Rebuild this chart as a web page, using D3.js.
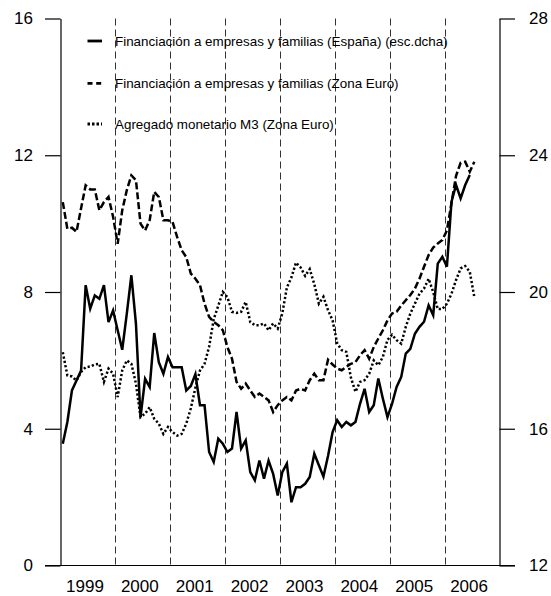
<!DOCTYPE html>
<html>
<head>
<meta charset="utf-8">
<script src="https://cdn.jsdelivr.net/npm/d3@7"></script>
<style>
  html, body { margin: 0; padding: 0; background: #fff; }
  svg { display: block; }
  text { font-family: "Liberation Sans", Arial, sans-serif; fill: #000; }
</style>
</head>
<body>
<script>
// ---- data (monthly, starting January 1999) ----
const years = ['1999', '2000', '2001', '2002', '2003', '2004', '2005', '2006'];
const leftTicks = [0, 4, 8, 12, 16];
const rightTicks = [12, 16, 20, 24, 28];

// Financiación a empresas y familias (España) — right scale
const spainCredit = [
  15.56, 16.2, 17.12, 17.41, 17.7, 20.2, 19.51, 19.9, 19.8, 20.2, 19.12, 19.46,
  18.88, 18.31, 19.37, 20.49, 19.07, 16.34, 17.46, 17.22, 18.8, 17.95, 17.61, 18.1,
  17.8, 17.8, 17.8, 17.12, 17.25, 17.6, 16.69, 16.69, 15.32, 15.03, 15.71, 15.56,
  15.32, 15.42, 16.49, 15.42, 15.66, 14.73, 14.49, 15.07, 14.54, 15.07, 14.68, 14.05,
  14.73, 14.98, 13.85, 14.29, 14.29, 14.39, 14.59, 15.27, 14.93, 14.6, 15.2, 15.9,
  16.25, 16.05, 16.2, 16.1, 16.2, 16.73, 17.17, 16.49, 16.69, 17.47, 16.88, 16.34,
  16.73, 17.22, 17.51, 18.2, 18.34, 18.78, 18.98, 19.13, 19.61, 19.32, 20.83, 21.03,
  20.74, 22.64, 23.13, 22.74, 23.13, 23.42
];

// Financiación a empresas y familias (Zona Euro) — left scale
const euroCredit = [
  10.63, 9.85, 9.88, 9.76, 10.45, 11.12, 11.0, 11.0, 10.39, 10.63, 10.78, 10.2,
  9.41, 10.39, 10.98, 11.41, 11.27, 10.0, 9.8, 10.1, 10.93, 10.78, 10.1, 10.1,
  10.05, 9.61, 9.22, 9.02, 8.54, 8.39, 8.2, 7.66, 7.27, 7.13, 7.03, 6.88,
  6.39, 6.05, 5.37, 5.17, 5.32, 5.12, 4.93, 5.03, 4.93, 4.83, 4.49, 4.69,
  4.83, 4.93, 4.83, 5.12, 5.17, 5.12, 5.42, 5.61, 5.42, 5.42, 6.02, 5.88,
  5.76, 5.71, 5.81, 5.9, 5.95, 6.15, 6.3, 6.05, 6.39, 6.64, 6.88, 7.17,
  7.37, 7.42, 7.6, 7.76, 7.91, 8.1, 8.39, 8.74, 9.08, 9.3, 9.42, 9.52,
  9.8, 10.6, 11.4, 11.78, 11.81, 11.52, 11.81
];

// Agregado monetario M3 (Zona Euro) — left scale
const euroM3 = [
  6.24, 5.56, 5.53, 5.41, 5.66, 5.8, 5.82, 5.88, 5.9, 5.37, 5.76, 5.61,
  4.93, 5.71, 6.0, 5.9, 5.32, 4.34, 4.44, 4.63, 4.29, 4.15, 3.85, 4.05,
  3.9, 3.8, 3.85, 4.15, 4.6, 5.2, 5.7, 5.9, 6.4, 7.2, 7.6, 8.0,
  7.85, 7.42, 7.39, 7.42, 7.71, 7.12, 7.03, 7.03, 7.08, 6.88, 7.08, 6.93,
  7.37, 8.13, 8.43, 8.86, 8.72, 8.47, 8.67, 8.23, 7.66, 7.86, 7.47, 7.17,
  6.5, 6.3, 6.25, 5.5, 5.08, 5.37, 5.42, 5.61, 6.0, 5.86, 6.1, 6.6,
  6.75, 6.59, 6.49, 6.98, 7.37, 7.66, 7.95, 8.1, 8.39, 8.0, 7.5, 7.5,
  7.66, 7.95, 8.35, 8.69, 8.76, 8.59, 7.85
];

const legendLabels = [
  'Financiación a empresas y familias (España) (esc.dcha)',
  'Financiación a empresas y familias (Zona Euro)',
  'Agregado monetario M3 (Zona Euro)'
];

// ---- drawing ----
(function () {
const W = 551, H = 596;
const pLeft = 60.5, pRight = 499.5, pTop = 18.5, pBottom = 565.5;
const tick = 15.5;

const svg = d3.select('body').append('svg').attr('width', W).attr('height', H);

const x = d3.scaleLinear().domain([0, years.length * 12]).range([pLeft, pRight]);
const yL = d3.scaleLinear().domain([0, 16]).range([pBottom, pTop]);
const yR = d3.scaleLinear().domain([12, 28]).range([pBottom, pTop]);

// year separators
svg.append('g').selectAll('line')
  .data(d3.range(1, years.length))
  .join('line')
  .attr('x1', d => Math.round(x(d * 12)) + 0.5)
  .attr('x2', d => Math.round(x(d * 12)) + 0.5)
  .attr('y1', pTop).attr('y2', pBottom)
  .attr('stroke', '#333').attr('stroke-width', 1)
  .attr('stroke-dasharray', '7,4');

// left axis
const axL = d3.axisLeft(yL).tickValues(leftTicks).tickSize(tick).tickSizeOuter(0).tickPadding(12);
const gL = svg.append('g').attr('transform', `translate(${pLeft},0)`).call(axL);
// right axis
const axR = d3.axisRight(yR).tickValues(rightTicks).tickSize(tick).tickSizeOuter(0).tickPadding(14);
const gR = svg.append('g').attr('transform', `translate(${pRight},0)`).call(axR);
[gL, gR].forEach(g => {
  g.select('.domain').attr('stroke', '#000').attr('stroke-width', 1.2);
  g.selectAll('.tick line').attr('stroke', '#000').attr('stroke-width', 1.2);
  g.selectAll('.tick text').style('font-size', '17px')
    .style('font-family', '"Liberation Sans", Arial, sans-serif').attr('fill', '#000');
});

// baseline
svg.append('line')
  .attr('x1', pLeft - tick).attr('x2', pRight + tick)
  .attr('y1', yL(0)).attr('y2', yL(0))
  .attr('stroke', '#000').attr('stroke-width', 1.2);

// year labels
svg.append('g').selectAll('text')
  .data(years)
  .join('text')
  .attr('x', (d, i) => x(i * 12 + 6) - 3)
  .attr('y', 592)
  .attr('text-anchor', 'middle')
  .style('font-size', '17px')
  .text(d => d);

// series
const lineL = d3.line().x((d, i) => x(i + 0.5)).y(d => yL(d));
const lineR = d3.line().x((d, i) => x(i + 0.5)).y(d => yR(d));

svg.append('path').datum(euroM3).attr('d', lineL)
  .attr('fill', 'none').attr('stroke', '#000').attr('stroke-width', 2.5)
  .attr('stroke-dasharray', '2.2,2.2').attr('stroke-linejoin', 'miter');
svg.append('path').datum(euroCredit).attr('d', lineL)
  .attr('fill', 'none').attr('stroke', '#000').attr('stroke-width', 2.5)
  .attr('stroke-dasharray', '7,3').attr('stroke-linejoin', 'miter');
svg.append('path').datum(spainCredit).attr('d', lineR)
  .attr('fill', 'none').attr('stroke', '#000').attr('stroke-width', 2.5)
  .attr('stroke-linejoin', 'miter');

// legend
const legY = [41, 83.3, 124];
const legDash = [null, '5,3.7', '2.5,2'];
const leg = svg.append('g');
legendLabels.forEach((lab, i) => {
  leg.append('line')
    .attr('x1', 87.5).attr('x2', 102).attr('y1', legY[i]).attr('y2', legY[i])
    .attr('stroke', '#000').attr('stroke-width', 2.8)
    .attr('stroke-dasharray', legDash[i]);
  leg.append('text')
    .attr('x', 115).attr('y', legY[i]).attr('dy', '0.34em')
    .style('font-size', '13.4px')
    .text(lab);
});
})();
</script>
</body>
</html>
